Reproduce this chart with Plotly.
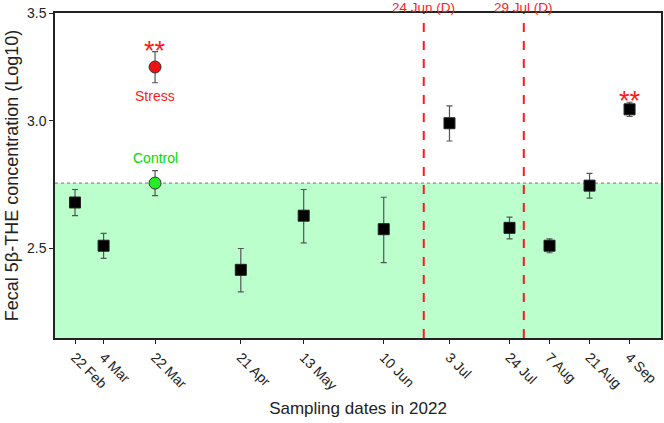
import math
import plotly.graph_objects as go

# ---- data ----
dates = ["2022-02-22", "2022-03-04", "2022-04-21", "2022-05-13", "2022-06-10",
         "2022-07-03", "2022-07-24", "2022-08-07", "2022-08-21", "2022-09-04"]
means = [2.67, 2.51, 2.425, 2.62, 2.57, 2.99, 2.575, 2.51, 2.735, 3.05]
errs = [0.05, 0.045, 0.075, 0.10, 0.12, 0.075, 0.04, 0.025, 0.048, 0.031]

ref_date = "2022-03-22"
control_mean, control_err = 2.745, 0.049
stress_mean, stress_err = 3.24, 0.072

tick_dates = ["2022-02-22", "2022-03-04", "2022-03-22", "2022-04-21", "2022-05-13",
              "2022-06-10", "2022-07-03", "2022-07-24", "2022-08-07", "2022-08-21",
              "2022-09-04"]
tick_labels = ["22 Feb", "4 Mar", "22 Mar", "21 Apr", "13 May", "10 Jun", "3 Jul",
               "24 Jul", "7 Aug", "21 Aug", "4 Sep"]
event_dates = ["2022-06-24", "2022-07-29"]
event_labels = ["24 Jun (D)", "29 Jul (D)"]

y_min, y_max = 2.2, 3.5
threshold = control_mean

FONT = "Liberation Sans, Arial, sans-serif"
RED = "#ff1a1a"
GREEN = "#00dd00"

fig = go.Figure()

# green reference band
fig.add_shape(type="rect", xref="paper", x0=0, x1=1, yref="y",
              y0=y_min, y1=threshold, fillcolor="#bbffcc", line_width=0,
              layer="below")
fig.add_shape(type="line", xref="paper", x0=0, x1=1, yref="y",
              y0=threshold, y1=threshold,
              line=dict(color="#777777", width=1, dash="dot"), layer="below")

for d in event_dates:
    fig.add_shape(type="line", x0=d, x1=d, xref="x", yref="paper", y0=0, y1=1,
                  line=dict(color=RED, width=2, dash="dash"))
for d, t in zip(event_dates, event_labels):
    fig.add_annotation(x=d, y=1.017, xref="x", yref="paper", text=t, showarrow=False,
                       yanchor="middle",
                       font=dict(family=FONT, size=13.5, color=RED))

errbar = dict(type="data", thickness=1.2, width=3, color="#555555")

fig.add_trace(go.Scatter(x=dates, y=means, mode="markers",
                         error_y=dict(array=errs, **errbar),
                         marker=dict(symbol="square", size=11, color="black",
                                     line=dict(color="#222", width=1)),
                         showlegend=False))
fig.add_trace(go.Scatter(x=[ref_date], y=[control_mean], mode="markers",
                         error_y=dict(array=[control_err], **errbar),
                         marker=dict(symbol="circle", size=12, color="#22ee22",
                                     line=dict(color="#333", width=1)),
                         showlegend=False))
fig.add_trace(go.Scatter(x=[ref_date], y=[stress_mean], mode="markers",
                         error_y=dict(array=[stress_err], **errbar),
                         marker=dict(symbol="circle", size=12, color="#ee1111",
                                     line=dict(color="#333", width=1)),
                         showlegend=False))

# labels
fig.add_annotation(x=ref_date, y=math.log10(stress_mean - stress_err), text="Stress",
                   showarrow=False, yanchor="top", yshift=-3,
                   font=dict(family=FONT, size=14, color=RED))
fig.add_annotation(x=ref_date, y=math.log10(control_mean + control_err), text="Control",
                   showarrow=False, yanchor="bottom", yshift=3,
                   font=dict(family=FONT, size=14, color=GREEN))
for xd, top in [(ref_date, stress_mean + stress_err), (dates[-1], means[-1] + errs[-1])]:
    fig.add_annotation(x=xd, y=math.log10(top), text="**",
                       showarrow=False, yanchor="bottom", yshift=-16,
                       font=dict(family=FONT, size=27, color=RED))

fig.update_layout(
    width=664, height=423,
    margin=dict(l=55, r=1, t=13, b=85),
    plot_bgcolor="white", paper_bgcolor="white",
    font=dict(family=FONT, size=14, color="#222"),
    showlegend=False,
)
fig.update_xaxes(type="date", range=["2022-02-15", "2022-09-15"],
                 tickmode="array", tickvals=tick_dates, ticktext=tick_labels,
                 tickangle=45, ticks="outside", ticklen=4, tickcolor="#222",
                 showline=True, linecolor="#222", linewidth=1.5, mirror=True,
                 showgrid=False, zeroline=False,
                 tickfont=dict(family=FONT, size=14, color="#222"),
                 title=dict(text="Sampling dates in 2022", standoff=10,
                            font=dict(family=FONT, size=17, color="#222")))
fig.update_yaxes(type="log", range=[math.log10(y_min), math.log10(y_max)],
                 tickmode="array", tickvals=[2.5, 3.0, 3.5],
                 ticktext=["2.5", "3.0", "3.5"],
                 ticks="outside", ticklen=4, tickcolor="#222",
                 showline=True, linecolor="#222", linewidth=1.5, mirror=True,
                 showgrid=False, zeroline=False,
                 tickfont=dict(family=FONT, size=14, color="#222"),
                 title=dict(text="Fecal 5β-THE concentration (Log10)", standoff=4,
                            font=dict(family=FONT, size=18, color="#222")))

fig.write_html("out.html")
